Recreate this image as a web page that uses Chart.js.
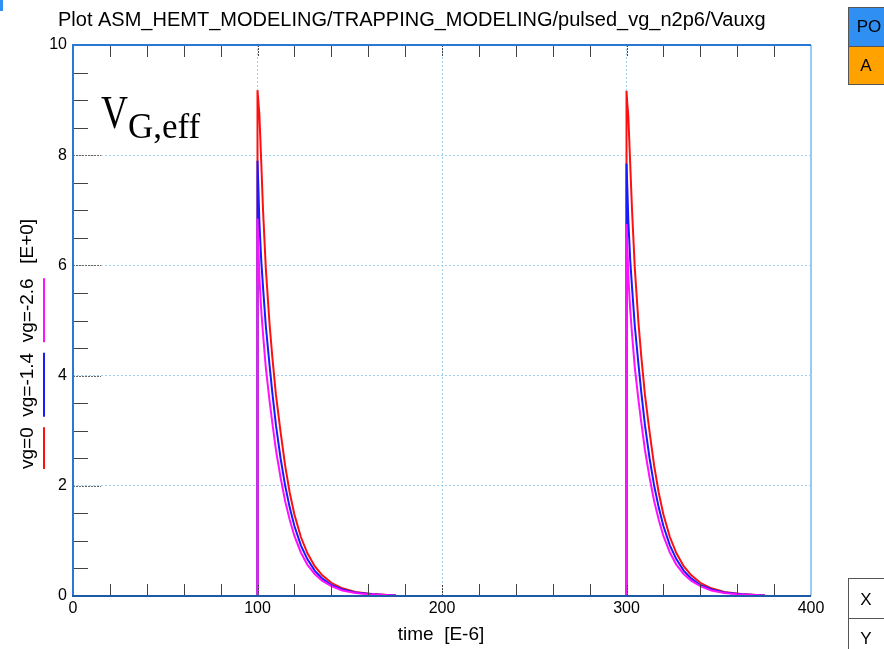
<!DOCTYPE html>
<html>
<head>
<meta charset="utf-8">
<script src="https://cdn.jsdelivr.net/npm/chart.js@4/dist/chart.umd.min.js"></script>
<style>
  html, body { margin: 0; padding: 0; background: #fff; }
  canvas { display: block; }
</style>
</head>
<body>
<canvas id="chart" width="884" height="649"></canvas>
<script>
// series labels / colours
const seriesLabels = ['vg=0', 'vg=-1.4', 'vg=-2.6'];
const seriesColors = ['#ff1010', '#1a1aff', '#ff10ff'];

// time points of the two pulses [E-6]
const timesP1 = [100, 100, 100.4, 101, 102, 103, 104.5, 106.5, 108, 110, 112.5, 115, 117.5, 120, 123.5, 127, 131, 135, 140, 146, 153, 162, 175];
const timesP2 = [300, 300, 300.4, 301, 302, 303, 304.5, 306.5, 308, 310, 312.5, 315, 317.5, 320, 323.5, 327, 331, 335, 340, 346, 353, 362, 375];

// Vauxg values
const redP1 = [0, 9.18, 9.0, 8.75, 7.9, 7.0, 5.95, 4.95, 4.35, 3.65, 2.98, 2.36, 1.87, 1.48, 1.07, 0.78, 0.54, 0.38, 0.24, 0.14, 0.075, 0.035, 0.01];
const redP2 = [0, 9.17, 8.95, 8.7, 7.85, 7.0, 5.95, 4.95, 4.35, 3.65, 2.98, 2.36, 1.87, 1.48, 1.07, 0.78, 0.54, 0.38, 0.24, 0.14, 0.075, 0.035, 0.01];
const blueP1 = [0, 7.9, 7.5, 6.8, 6.1, 5.6, 4.9, 4.2, 3.7, 3.1, 2.5, 2.0, 1.6, 1.27, 0.92, 0.67, 0.46, 0.32, 0.2, 0.12, 0.065, 0.03, 0.01];
const blueP2 = [0, 7.85, 7.45, 6.8, 6.1, 5.6, 4.9, 4.2, 3.7, 3.1, 2.5, 2.0, 1.6, 1.27, 0.92, 0.67, 0.46, 0.32, 0.2, 0.12, 0.065, 0.03, 0.01];
const magP1 = [0, 6.85, 6.45, 5.8, 5.2, 4.75, 4.15, 3.55, 3.15, 2.65, 2.15, 1.72, 1.38, 1.09, 0.79, 0.57, 0.4, 0.28, 0.18, 0.1, 0.055, 0.025, 0.01];
const magP2 = [0, 6.75, 6.4, 5.8, 5.2, 4.75, 4.15, 3.55, 3.15, 2.65, 2.15, 1.72, 1.38, 1.09, 0.79, 0.57, 0.4, 0.28, 0.18, 0.1, 0.055, 0.025, 0.01];

const titleText = 'Plot ASM_HEMT_MODELING/TRAPPING_MODELING/pulsed_vg_n2p6/Vauxg';
const xTitle = 'time  [E-6]';
const yUnit = '[E+0]';

function pulses(v1, v2) {
    const pts = timesP1.map((t, i) => ({ x: t, y: v1[i] }));
    pts.push({ x: 200, y: null });
    return pts.concat(timesP2.map((t, i) => ({ x: t, y: v2[i] })));
}

const FONT = '"Liberation Sans", Arial, sans-serif';

// frame, inner ticks, texts and side buttons
const decor = {
    id: 'decor',
    afterDatasetsDraw(chart) {
        const c = chart.ctx;
        const a = chart.chartArea;
        const xs = chart.scales.x, ys = chart.scales.y;
        c.save();
        c.lineWidth = 1;
        // x ticks every 20
        for (let v = 20; v < 400; v += 20) {
            const px = Math.round(xs.getPixelForValue(v)) + 0.5;
            c.strokeStyle = '#444';
            c.setLineDash(v % 100 === 0 ? [2, 1] : []);
            c.beginPath();
            c.moveTo(px, a.bottom); c.lineTo(px, a.bottom - 12);
            c.moveTo(px, a.top); c.lineTo(px, a.top + 12);
            c.stroke();
        }
        // y ticks every 0.5
        for (let v = 0.5; v < 10; v += 0.5) {
            const py = Math.round(ys.getPixelForValue(v)) + 0.5;
            const major = v % 2 === 0;
            c.strokeStyle = major ? '#666' : '#444';
            c.setLineDash(major ? [2, 1] : []);
            c.beginPath();
            c.moveTo(a.left, py); c.lineTo(a.left + (major ? 28 : 15), py);
            c.stroke();
        }
        c.setLineDash([]);
        // frame
        c.lineWidth = 2;
        c.strokeStyle = '#9ccaf2';
        c.beginPath(); c.moveTo(a.right, a.top); c.lineTo(a.right, a.bottom); c.stroke();
        c.strokeStyle = '#2a78d4';
        c.beginPath(); c.moveTo(a.left, a.bottom); c.lineTo(a.left, a.top); c.lineTo(a.right, a.top); c.stroke();
        c.strokeStyle = '#1d5aa8';
        c.beginPath(); c.moveTo(a.left - 1, a.bottom); c.lineTo(a.right, a.bottom); c.stroke();
        c.restore();
    },
    afterDraw(chart) {
        const c = chart.ctx;
        c.save();
        c.fillStyle = '#000';
        // title
        c.font = '20px ' + FONT;
        c.textBaseline = 'alphabetic';
        c.textAlign = 'left';
        c.fillText(titleText, 58, 26, 725);
        // x title
        c.font = '19px ' + FONT;
        c.textAlign = 'center';
        c.fillText(xTitle, 441, 640);
        // rotated y legend
        c.textAlign = 'left';
        const gap = c.measureText('  ').width;
        let yPos = 469;
        seriesLabels.forEach((lab, i) => {
            const w = c.measureText(lab).width;
            c.save();
            c.translate(33, yPos);
            c.rotate(-Math.PI / 2);
            c.fillText(lab, 0, 0);
            c.restore();
            c.strokeStyle = seriesColors[i];
            c.lineWidth = 2;
            c.beginPath(); c.moveTo(44, yPos); c.lineTo(44, yPos - w); c.stroke();
            yPos -= w + gap;
        });
        c.save();
        c.translate(33, yPos - 4);
        c.rotate(-Math.PI / 2);
        c.fillText(yUnit, 0, 0);
        c.restore();
        // V_G,eff label
        c.font = '46px "Liberation Serif", serif';
        c.fillText('V', 101, 128, 27);
        c.font = '35px "Liberation Serif", serif';
        c.fillText('G,eff', 128, 138);
        // side buttons
        c.font = '17px ' + FONT;
        c.textAlign = 'center';
        c.textBaseline = 'middle';
        c.lineWidth = 1;
        c.strokeStyle = '#555';
        const boxes = [
            { y: 7, h: 39, fill: '#2f8ff2', txt: 'PO', ty: 27 },
            { y: 46, h: 38, fill: '#ffa200', txt: 'A', ty: 66 },
            { y: 578, h: 40, fill: '#fff', txt: 'X', ty: 600 },
            { y: 618, h: 40, fill: '#fff', txt: 'Y', ty: 639 }
        ];
        boxes.forEach(b => {
            c.fillStyle = b.fill;
            c.fillRect(848, b.y, 50, b.h);
            c.strokeRect(848.5, b.y + 0.5, 50, b.h);
            c.fillStyle = '#000';
            c.fillText(b.txt, b.txt === 'PO' ? 869 : 866, b.ty);
        });
        c.fillStyle = '#2f8ff2';
        c.fillRect(0, 0, 3, 11);
        c.restore();
    }
};

const gridColor = (ctx, step, maxV) => {
    const v = ctx.tick ? ctx.tick.value : 0;
    return (v % step === 0 && v !== 0 && v !== maxV) ? '#9fd0f0' : 'rgba(0,0,0,0)';
};

new Chart(document.getElementById('chart').getContext('2d'), {
    type: 'scatter',
    data: {
        datasets: [
            { label: seriesLabels[0], data: pulses(redP1, redP2), borderColor: seriesColors[0], order: 3 },
            { label: seriesLabels[1], data: pulses(blueP1, blueP2), borderColor: seriesColors[1], order: 2 },
            { label: seriesLabels[2], data: pulses(magP1, magP2), borderColor: seriesColors[2], order: 1 }
        ].map(d => Object.assign(d, { showLine: true, borderWidth: 2, pointRadius: 0, tension: 0, spanGaps: false }))
    },
    options: {
        responsive: false,
        animation: false,
        layout: { padding: { top: 45, right: 73, left: 0, bottom: 0 } },
        plugins: { legend: { display: false }, tooltip: { enabled: false }, title: { display: false } },
        scales: {
            x: {
                type: 'linear', min: 0, max: 400,
                afterFit: s => { s.height = 53; },
                ticks: {
                    stepSize: 20, autoSkip: false, maxRotation: 0, padding: 3, color: '#000',
                    font: { family: FONT, size: 16 },
                    callback: v => (v % 100 === 0 ? v : '')
                },
                grid: { drawTicks: false, lineWidth: 1, color: ctx => gridColor(ctx, 100, 400) },
                border: { display: false, dash: [2, 2] }
            },
            y: {
                min: 0, max: 10,
                afterFit: s => { s.width = 73; },
                ticks: {
                    stepSize: 0.5, autoSkip: false, padding: 6, color: '#000',
                    font: { family: FONT, size: 16 },
                    callback: v => (v % 2 === 0 ? v : '')
                },
                grid: { drawTicks: false, lineWidth: 1, color: ctx => gridColor(ctx, 2, 10) },
                border: { display: false, dash: [2, 2] }
            }
        }
    },
    plugins: [decor]
});
</script>
</body>
</html>
